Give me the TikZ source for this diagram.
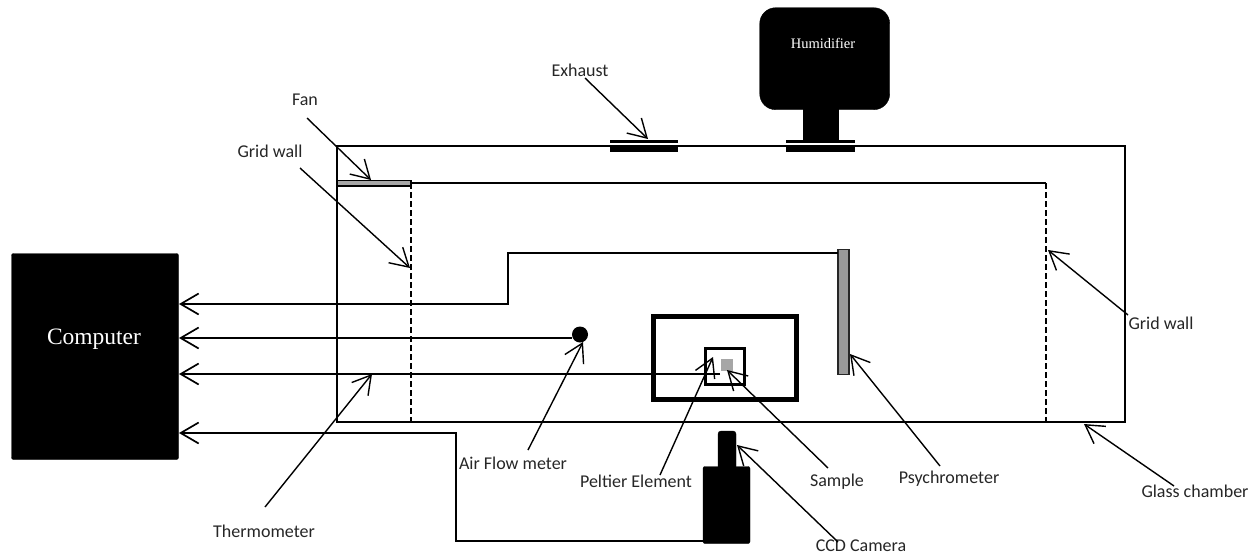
\documentclass[tikz,border=0pt]{standalone}
\usepackage{fontspec}
\setmainfont{Carlito}
\newfontfamily\serifname{Liberation Serif}
\usetikzlibrary{arrows.meta}
\tikzset{
    blackbox/.style={
        fill=black,
        draw=black,
        inner sep=0pt
    },
    boxtext/.style={
        text=white,
        inner sep=0pt
    },
    labelnode/.style={
        font=\fontsize{18}{21}\selectfont,
        text=black!85,
        align=center,
        inner sep=1pt
    },
    wall/.style={
        line width=2.2pt
    },
    gridline/.style={
        line width=2.6pt,
        dash pattern=on 6pt off 3pt
    },
    signal/.style={
        line width=2pt,
        -{Straight Barb[length=18pt,width=21pt,line width=1.7pt]}
    },
    pointer/.style={
        line width=1.4pt,
        -{Straight Barb[length=18pt,width=21pt,line width=1.4pt]}
    }
}
\begin{document}
\begin{tikzpicture}[x=1pt,y=-1pt]
\useasboundingbox (0,0) rectangle (1259,555);
% chamber
\node[draw,wall,minimum width=788pt,minimum height=276pt,inner sep=0pt] (chamber) at (731,284) {};
\coordinate (innerleft) at (411,183);
\coordinate (innercorner) at (1046,183);
\coordinate (innerbottom) at (1046,422);
\coordinate (gridtop) at (411,183);
\coordinate (gridbottom) at (411,422);
\draw[wall] (innerleft) -- (innercorner);
\draw[gridline] (innercorner) -- (innerbottom);
\draw[gridline] (gridtop) -- (gridbottom);
% fan
\node[draw=black,fill=black!35,line width=1.5pt,minimum width=74pt,minimum height=5.5pt,inner sep=0pt] (fan) at (374,183) {};
% exhaust
\node[fill=black,minimum width=68pt,minimum height=2.5pt,inner sep=0pt] (exhausttop) at (644,141.5) {};
\node[fill=black,minimum width=68pt,minimum height=6pt,inner sep=0pt] (exhaustbottom) at (644,149) {};
% humidifier
\node[blackbox,rounded corners=16pt,minimum width=130pt,minimum height=102pt,anchor=north west] (humidifier) at (759.5,7.5) {};
\node[boxtext,font=\serifname\fontsize{14.5}{17}\selectfont] (humidifiertext) at (823,43) {Humidifier};
\node[blackbox,minimum width=35pt,minimum height=33pt] (humidstem) at (820.5,125) {};
\node[fill=black,minimum width=69pt,minimum height=2.5pt,inner sep=0pt] (humidtop) at (820.5,141.5) {};
\node[fill=black,minimum width=69pt,minimum height=6pt,inner sep=0pt] (humidbottom) at (820.5,149) {};
% computer
\node[blackbox,rounded corners=2pt,minimum width=167pt,minimum height=206pt] (computer) at (95,356.5) {};
\node[boxtext,font=\serifname\fontsize{23.5}{28}\selectfont] (computertext) at (94,339) {Computer};
% psychrometer
\node[draw=black!85,fill=black!40,line width=1.6pt,minimum width=10.5pt,minimum height=125pt,inner sep=0pt] (psychro) at (843.5,312) {};
% air flow meter
\node[circle,fill=black,minimum size=16pt,inner sep=0pt] (airflow) at (580,334.5) {};
% peltier
\node[draw,line width=5pt,minimum width=143pt,minimum height=83pt,inner sep=0pt] (chuck) at (724.5,357.5) {};
\node[draw,line width=3pt,minimum width=39pt,minimum height=36pt,inner sep=0pt] (peltier) at (725,366) {};
\node[fill=black!35,minimum size=12.5pt,inner sep=0pt] (sample) at (727,365) {};
% camera
\node[blackbox,rounded corners=3pt,minimum width=18pt,minimum height=44pt] (lens) at (727,453) {};
\node[blackbox,rounded corners=2pt,minimum width=47pt,minimum height=77pt] (camera) at (726.5,505) {};
% signal lines
\coordinate (psychroin) at (838,253);
\coordinate (stepup) at (508,253);
\coordinate (stepdown) at (508,304);
\coordinate (computerpsy) at (179,304);
\draw[signal] (psychroin) -- (stepup) -- (stepdown) -- (computerpsy);
\coordinate (airflowin) at (572,338);
\coordinate (computerair) at (179,338);
\draw[signal] (airflowin) -- (computerair);
\coordinate (thermoin) at (720,374);
\coordinate (computerthermo) at (179,374);
\draw[signal] (thermoin) -- (computerthermo);
\coordinate (cameraout) at (703,541);
\coordinate (camerastep) at (456,541);
\coordinate (cameraup) at (456,433);
\coordinate (computercam) at (179,433);
\draw[signal] (cameraout) -- (camerastep) -- (cameraup) -- (computercam);
% labels
\node[labelnode] (fanlabel) at (305,100) {Fan};
\node[labelnode] (gridleft) at (270,151) {Grid wall};
\node[labelnode] (exhaustlabel) at (580,70) {Exhaust};
\node[labelnode] (gridright) at (1161,323) {Grid wall};
\node[labelnode] (airlabel) at (513,463) {Air Flow meter};
\node[labelnode] (peltierlabel) at (636,481) {Peltier Element};
\node[labelnode] (samplelabel) at (837,482) {Sample};
\node[labelnode] (psychrolabel) at (949,479) {Psychrometer};
\node[labelnode] (glasslabel) at (1195,491) {Glass chamber};
\node[labelnode] (ccdlabel) at (861,546) {CCD Camera};
\node[labelnode] (thermolabel) at (264,531) {Thermometer};
% pointers
\coordinate (fanstart) at (307,118);
\coordinate (gridleftstart) at (300,168);
\coordinate (exhauststart) at (585,78);
\coordinate (gridrightstart) at (1128,315);
\coordinate (airstart) at (528,450);
\coordinate (peltierstart) at (660,475);
\coordinate (samplestart) at (828,468);
\coordinate (psychrostart) at (940,466);
\coordinate (glassstart) at (1174,486);
\coordinate (ccdstart) at (838,542);
\coordinate (thermostart) at (265,507);
\coordinate (fantip) at (371,180);
\coordinate (gridlefttip) at (410,268);
\coordinate (exhausttip) at (648,139);
\coordinate (gridrighttip) at (1048,250);
\coordinate (airtip) at (583,342);
\coordinate (peltiertip) at (713,357);
\coordinate (sampletip) at (727,370);
\coordinate (psychrotip) at (850,354);
\coordinate (glasstip) at (1084,424);
\coordinate (ccdtip) at (737,445);
\coordinate (thermotip) at (372,374);
\draw[pointer] (fanstart) -- (fantip);
\draw[pointer] (gridleftstart) -- (gridlefttip);
\draw[pointer] (exhauststart) -- (exhausttip);
\draw[pointer] (gridrightstart) -- (gridrighttip);
\draw[pointer] (airstart) -- (airtip);
\draw[pointer] (peltierstart) -- (peltiertip);
\draw[pointer] (samplestart) -- (sampletip);
\draw[pointer] (psychrostart) -- (psychrotip);
\draw[pointer] (glassstart) -- (glasstip);
\draw[pointer] (ccdstart) -- (ccdtip);
\draw[pointer] (thermostart) -- (thermotip);
\end{tikzpicture}
\end{document}
